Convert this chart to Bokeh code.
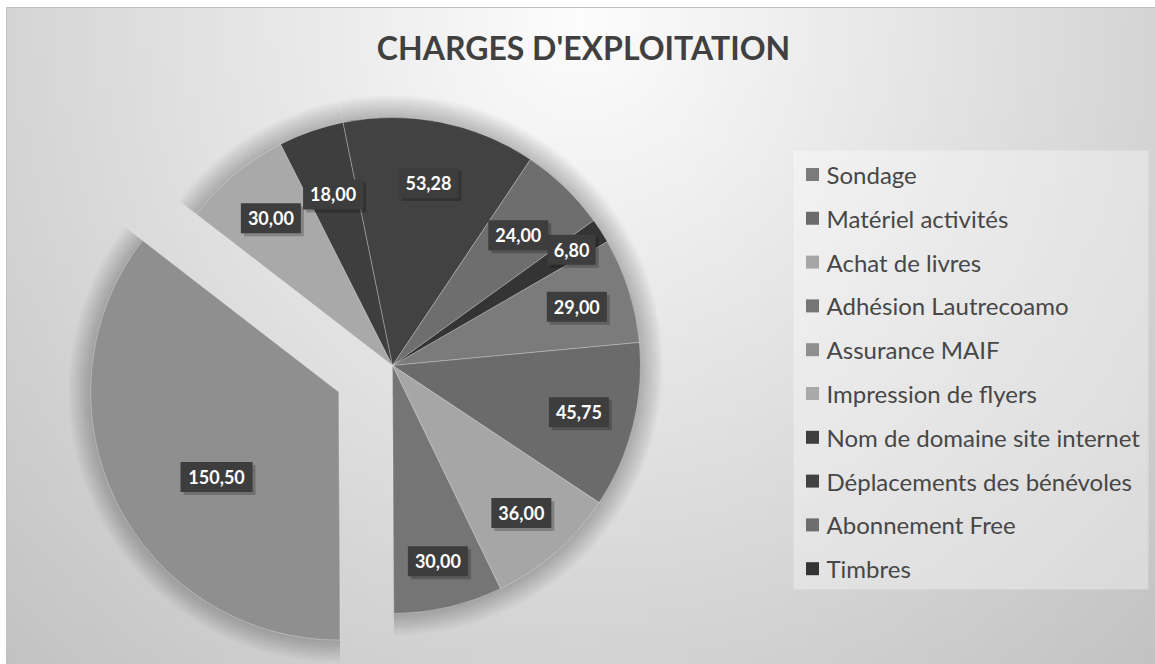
import math
import numpy as np
from bokeh.plotting import figure
from bokeh.models import Range1d, ColumnDataSource
from bokeh.core.properties import value
from bokeh.embed import file_html
from bokeh.resources import INLINE

# ---------------- data ----------------
categories = ["Sondage", "Matériel activités", "Achat de livres", "Adhésion Lautrecoamo",
              "Assurance MAIF", "Impression de flyers", "Nom de domaine site internet",
              "Déplacements des bénévoles", "Abonnement Free", "Timbres"]
amounts = [29.00, 45.75, 36.00, 30.00, 150.50, 30.00, 18.00, 53.28, 24.00, 6.80]
title_text = "CHARGES D'EXPLOITATION"

# ---------------- style ----------------
colors = ["#7b7b7b", "#6b6b6b", "#a6a6a6", "#757575", "#8f8f8f",
          "#a9a9a9", "#3e3e3e", "#424242", "#6e6e6e", "#343434"]
exploded = "Assurance MAIF"
W, H = 1155, 664
CX, CY, R = 392, H - 365, 248
FIRST_ANGLE = 30.0          # degrees (math convention) where the first slice starts
EXPLODE = 60
label_rf = [0.78, 0.775, 0.79, 0.81, 0.60, 0.77, 0.73, 0.75, 0.73, 0.86]
label_da = [0, 0, 0, 0, 8.5, 0, 0, 0, 0, 0]
FONT = "Lato"

p = figure(width=W, height=H, output_backend="svg", toolbar_location=None,
           x_range=Range1d(0, W), y_range=Range1d(0, H), min_border=0,
           border_fill_color="white", outline_line_color=None)
p.axis.visible = False
p.grid.visible = False
p.background_fill_color = "white"

# background radial gradient (style only)
gw, gh = 116, 66
xs = 6 + (np.arange(gw) + 0.5) * (W - 6) / gw
ys_data = (np.arange(gh) + 0.5) * (H - 7) / gh
sx, sy = np.meshgrid(xs, H - ys_data)
d = np.sqrt(((sx - 580) / 640) ** 2 + ((sy - 20) / 680) ** 2)
b = np.clip(253 - 45 * d, 180, 253).astype(np.uint32)
img = (255 << 24) | (b << 16) | (b << 8) | b
p.image_rgba(image=[img.astype(np.uint32)], x=6, y=0, dw=W - 6, dh=H - 7)
p.quad(left=[6], right=[W + 5], bottom=[-5], top=[H - 7], fill_color=None,
       line_color="#c0c0c0", line_width=1)

# slice geometry from the data
total = sum(amounts)
starts, ends, cxs, cys, mids = [], [], [], [], []
cum = 0.0
for cat, v in zip(categories, amounts):
    a0 = FIRST_ANGLE - 360 * cum / total
    cum += v
    a1 = FIRST_ANGLE - 360 * cum / total
    mid = (a0 + a1) / 2
    off = EXPLODE if cat == exploded else 0
    cxs.append(CX + off * math.cos(math.radians(mid)))
    cys.append(CY + off * math.sin(math.radians(mid)))
    starts.append(math.radians(a0))
    ends.append(math.radians(a1))
    mids.append(mid)

src = ColumnDataSource(dict(x=cxs, y=cys, start=starts, end=ends, color=colors, cat=categories))

# soft shadow
for k in range(1, 11):
    p.wedge(x="x", y="y", radius=R + 2.2 * k, start_angle="start", end_angle="end",
            direction="clock", source=src, fill_color="black", fill_alpha=0.022, line_color=None)

p.wedge(x="x", y="y", radius=R, start_angle="start", end_angle="end", direction="clock",
        source=src, fill_color="color", line_color="white", line_alpha=0.35, line_width=0.8)

# data labels
lx, ly, lt, lw = [], [], [], []
for i, v in enumerate(amounts):
    ang = math.radians(mids[i] + label_da[i])
    rr = R * label_rf[i]
    lx.append(cxs[i] + rr * math.cos(ang))
    ly.append(cys[i] + rr * math.sin(ang))
    t = f"{v:.2f}".replace(".", ",")
    lt.append(t)
    lw.append(12 * len(t))
lsrc = ColumnDataSource(dict(x=lx, y=ly, t=lt, w=lw, xs=[x + 3 for x in lx], ys=[y - 3 for y in ly]))
p.rect(x="xs", y="ys", width="w", height=30, source=lsrc, fill_color="black", fill_alpha=0.22, line_color=None)
p.rect(x="x", y="y", width="w", height=30, source=lsrc, fill_color="#3d3d3d", line_color=None)
p.text(x="x", y="y", text="t", source=lsrc, text_color="white", text_font=value(FONT),
       text_font_style="bold", text_font_size="18px", text_align="center", text_baseline="middle")

# title
p.text(x=[583], y=[H - 47], text=[title_text], text_color="#404040", text_font=value(FONT),
       text_font_style="bold", text_font_size="32px", text_align="center", text_baseline="middle")

# legend
p.quad(left=[793], right=[1148], bottom=[H - 589], top=[H - 150], fill_color="white",
       fill_alpha=0.35, line_color=None)
row_y = [H - (174 + 43.8 * i) for i in range(len(categories))]
p.rect(x=[812] * len(categories), y=row_y, width=13, height=13, fill_color=colors, line_color=None)
p.text(x=[826] * len(categories), y=row_y, text=categories, text_color="#474747",
       text_font=value(FONT), text_font_size="24px", text_align="left", text_baseline="middle")

open("out.html", "w").write(file_html(p, INLINE))
